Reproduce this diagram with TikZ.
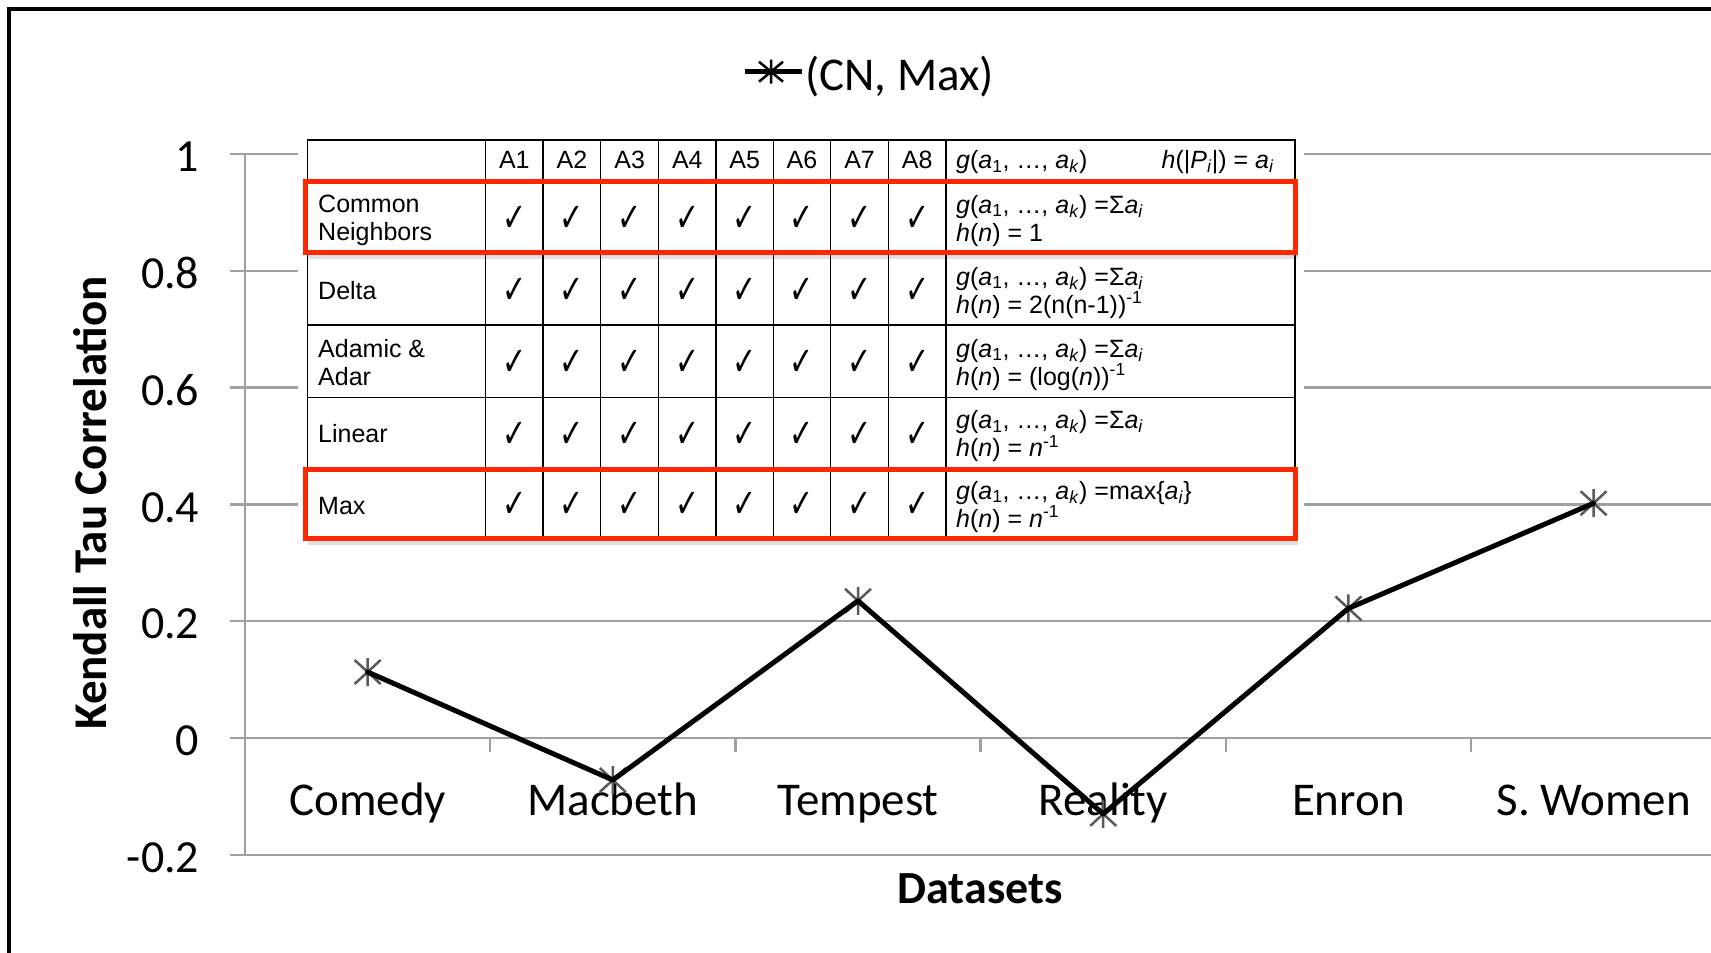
\documentclass[tikz,border=0pt]{standalone}
\usepackage{fontspec}
\usepackage{graphicx}
\setmainfont{Carlito}
\newfontfamily\tabfont{Liberation Sans}
\newfontfamily\chkfont{DejaVu Sans}
\definecolor{hired}{RGB}{255,38,0}
\definecolor{gridgray}{RGB}{160,160,160}
\newcommand{\myg}{\textit{g}(\textit{a}\textsubscript{1}, …, \textit{a}\textsubscript{\textit{k}})}
\newcommand{\myh}{\textit{h}(\textit{n}) = }
\newcommand{\myai}{\textit{a}\textsubscript{\textit{i}}}
\newcommand{\mychk}{\scalebox{0.72}[1]{✓}}
\begin{document}
\begin{tikzpicture}[x=1pt,y=-1pt,
  gridln/.style={draw=gridgray,line width=2.5pt},
  ticklbl/.style={font=\fontsize{46}{50}\selectfont, anchor=base east, inner sep=0pt},
  catlbl/.style={font=\fontsize{47}{52}\selectfont, anchor=base, inner sep=0pt},
  tabln/.style={draw=black,line width=1.3pt,line cap=rect},
  tabtxt/.style={font=\tabfont\fontsize{25}{28}\selectfont, anchor=base west, inner sep=0pt},
  tabhd/.style={font=\tabfont\fontsize{25}{28}\selectfont, anchor=base, inner sep=0pt},
  chkcell/.style={font=\chkfont\bfseries\fontsize{40}{42}\selectfont, inner sep=0pt},
  hibox/.style={draw=hired,line width=5pt},
  hishadow/.style={draw=black,opacity=0.12,line width=4pt},
  starmk/.style={draw=black!65,line width=2.5pt},
  series/.style={draw=black,line width=5pt,line join=round,line cap=round},
]
\useasboundingbox (0,0) rectangle (1711,953);
\fill[white] (0,0) rectangle (1711,953);

% frame
\coordinate (frBL) at (8.5,953);
\coordinate (frTL) at (8.5,9);
\coordinate (frTR) at (1711,9);
\draw[line width=4pt] (frBL) -- (frTL) -- (frTR);

% gridlines and y tick labels
\foreach \lbl/\yy [count=\n] in {1/154,0.8/270.8,0.6/387.6,0.4/504.4,0.2/621.2,0/738,-0.2/854.8}{
  \coordinate (gl\n) at (230,\yy);
  \coordinate (gr\n) at (1711,\yy);
  \draw[gridln] (gl\n) -- (gr\n);
  \node[ticklbl] (t\n) at (199.5,{\yy+17.7}) {\lbl};
}
% vertical axis
\coordinate (axT) at (245,154);
\coordinate (axB) at (245,854.8);
\draw[gridln] (axT) -- (axB);
% category ticks
\foreach \k in {0,...,5}{
  \coordinate (ct\k) at ({245+\k*245.2},738);
  \coordinate (cb\k) at ({245+\k*245.2},752);
  \draw[gridln] (ct\k) -- (cb\k);
}

% category labels
\node[catlbl] (cComedy) at (367.6,815) {Comedy};
\node[catlbl] (cMacbeth) at (612.8,815) {Macbeth};
\node[catlbl] (cTempest) at (858,815) {Tempest};
\node[catlbl] (cReality) at (1103.2,815) {Reality};
\node[catlbl] (cEnron) at (1348.4,815) {Enron};
\node[catlbl] (cSWomen) at (1593.6,815) {S. Women};

% axis titles
\node[rotate=90, anchor=base, inner sep=0pt, font=\bfseries\fontsize{47}{50}\selectfont] (ylab) at (106.5,503) {Kendall Tau Correlation};
\node[anchor=base, inner sep=0pt, font=\bfseries\fontsize{46}{50}\selectfont] (xlab) at (980,903) {Datasets};

% legend
\coordinate (lgL) at (745,71.7);
\coordinate (lgR) at (802,71.7);
\coordinate (lgC) at (771,71.7);
\draw[line width=4.5pt] (lgL) -- (lgR);
\draw[draw=black,line width=2.5pt,shift={(lgC)}] (-12,-10) -- (12,10) (-12,10) -- (12,-10) (0,-12) -- (0,12);
\node[anchor=base west, inner sep=0pt, font=\fontsize{47}{50}\selectfont] (title) at (805,90) {(CN, Max)};

% data
\coordinate (p1) at (367.6,672);
\coordinate (p2) at (612.8,780);
\coordinate (p3) at (858,600.8);
\coordinate (p4) at (1103.2,813.9);
\coordinate (p5) at (1348.4,608.4);
\coordinate (p6) at (1593.6,503.2);
\foreach \p in {p1,p2,p3,p4,p5,p6}{
  \draw[starmk,shift={(\p)}] (-13,-12) -- (13,12) (-13,12) -- (13,-12) (0,-14) -- (0,14);
}
\draw[series] (p1) -- (p2) -- (p3) -- (p4) -- (p5) -- (p6);

% table backdrop
\fill[white] (298,130) rectangle (1304,548);
% table grid
\foreach \yy [count=\n] in {140,181,253,325,397.5,468,538}{
  \coordinate (hl\n) at (307.5,\yy);
  \coordinate (hr\n) at (1295,\yy);
  \draw[tabln] (hl\n) -- (hr\n);
}
\foreach \xx [count=\n] in {307.5,485.6,543,600.8,658.5,716.1,773.2,830.8,888.4,946,1295}{
  \coordinate (vt\n) at (\xx,140);
  \coordinate (vb\n) at (\xx,538);
  \draw[tabln] (vt\n) -- (vb\n);
}
% header
\foreach \i/\xx in {1/514.3,2/571.9,3/629.65,4/687.3,5/744.65,6/802,7/859.6,8/917.2}{
  \node[tabhd] (hA\i) at (\xx,168.5) {A\i};
}
\node[tabtxt] (hg) at (956,168.5) {\myg};
\node[tabtxt, anchor=base east] (hh) at (1274,168.5) {\textit{h}(|\textit{P}\textsubscript{\textit{i}}|) = \myai};
% checks
\foreach \r/\yy in {1/219,2/291,3/363.25,4/434.75,5/505}{
  \foreach \i/\xx in {1/514.3,2/571.9,3/629.65,4/687.3,5/744.65,6/802,7/859.6,8/917.2}{
    \node[chkcell] (k\r\i) at (\xx,\yy) {\mychk};
  }
}
% row labels
\node[tabtxt] (rCN1) at (318,212.7) {Common};
\node[tabtxt] (rCN2) at (318,240.5) {Neighbors};
\node[tabtxt] (rDe) at (318,299.5) {Delta};
\node[tabtxt] (rAA1) at (318,357) {Adamic \&};
\node[tabtxt] (rAA2) at (318,385) {Adar};
\node[tabtxt] (rLi) at (318,442) {Linear};
\node[tabtxt] (rMa) at (318,514.5) {Max};
% formulas
\node[tabtxt] (fCN1) at (956,213) {\myg{} =Σ\myai};
\node[tabtxt] (fCN2) at (956,241) {\myh 1};
\node[tabtxt] (fDe1) at (956,285) {\myg{} =Σ\myai};
\node[tabtxt] (fDe2) at (956,313) {\myh 2(n(n-1))\textsuperscript{-1}};
\node[tabtxt] (fAA1) at (956,357) {\myg{} =Σ\myai};
\node[tabtxt] (fAA2) at (956,385) {\myh (log(\textit{n}))\textsuperscript{-1}};
\node[tabtxt] (fLi1) at (956,428.5) {\myg{} =Σ\myai};
\node[tabtxt] (fLi2) at (956,456.5) {\myh \textit{n}\textsuperscript{-1}};
\node[tabtxt] (fMa1) at (956,499) {\myg{} =max\{\myai\}};
\node[tabtxt] (fMa2) at (956,527) {\myh \textit{n}\textsuperscript{-1}};

% highlight boxes
\coordinate (sh1a) at (308,256.5);
\coordinate (sh1b) at (1298,256.5);
\coordinate (sh2a) at (308,542.5);
\coordinate (sh2b) at (1298,542.5);
\draw[hishadow] (sh1a) -- (sh1b);
\draw[hishadow] (sh2a) -- (sh2b);
\coordinate (bx1a) at (305,181);
\coordinate (bx1b) at (1295.5,252);
\coordinate (bx2a) at (305,469);
\coordinate (bx2b) at (1295.5,538.5);
\draw[hibox] (bx1a) rectangle (bx1b);
\draw[hibox] (bx2a) rectangle (bx2b);
\end{tikzpicture}
\end{document}
